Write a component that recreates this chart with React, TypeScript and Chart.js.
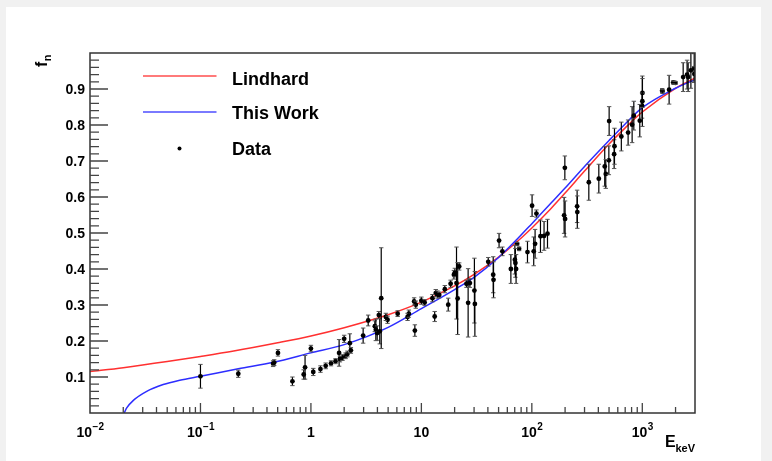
import React, { useEffect, useRef } from "react";
import { Chart, registerables } from "chart.js";

Chart.register(...registerables);

// ---- Curves ----
const lindhardE = [0.01, 0.02, 0.05, 0.1, 0.2, 0.5, 1, 2, 5, 10, 20, 30, 50, 70, 100, 150, 200, 300, 500, 700, 1000, 2000, 3000];
const lindhardF = [0.115, 0.126, 0.143, 0.157, 0.172, 0.195, 0.214, 0.237, 0.273, 0.308, 0.353, 0.385, 0.433, 0.47, 0.514, 0.569, 0.611, 0.672, 0.747, 0.792, 0.836, 0.902, 0.93];

const thisWorkE = [0.0204, 0.0215, 0.0247, 0.0326, 0.046, 0.065, 0.1, 0.22, 0.46, 1, 2, 5, 10, 20, 30, 50, 70, 100, 150, 200, 300, 500, 700, 1000, 2000, 3000];
const thisWorkF = [0, 0.014, 0.035, 0.06, 0.079, 0.091, 0.102, 0.123, 0.141, 0.167, 0.19, 0.238, 0.29, 0.343, 0.377, 0.432, 0.476, 0.526, 0.584, 0.625, 0.685, 0.757, 0.803, 0.848, 0.902, 0.926];

// ---- Data points ----
const dataE = [
  0.1, 0.22, 0.455, 0.465, 0.503, 0.68, 0.86, 0.885, 1.0, 1.05,
  1.22, 1.36, 1.52, 1.67, 1.8, 1.83, 1.93, 2.0, 2.06, 2.14,
  2.25, 2.3, 2.97, 3.3, 3.79, 3.87, 3.98, 4.12, 4.2, 4.33,
  4.77, 4.94, 6.1, 7.5, 7.7, 8.6, 8.73, 8.9, 10.0, 10.7,
  12.6, 13.2, 13.5, 14.0, 14.5, 16.3, 17.5, 18.4, 19.7, 20.1,
  20.8, 21.3, 22, 25.6, 26.5, 27.5, 30.2, 30.5, 40.3, 44.7,
  45, 50.5, 54.1, 64.6, 70.2, 71, 72, 73.6, 76.7, 91.3,
  100.5, 104, 107, 110, 119.7, 129, 138.6, 196, 199, 200,
  257, 258, 328, 404, 457, 467, 498, 501, 556, 560,
  646, 744, 809, 838, 949, 995, 1001, 1003, 1514, 1520,
  1749, 1903, 1995, 2344, 2544, 2600, 2754, 2950, 2960,
];
const dataF = [
  0.102, 0.109, 0.137, 0.14, 0.167, 0.088, 0.107, 0.127, 0.179, 0.114,
  0.122, 0.131, 0.138, 0.144, 0.167, 0.15, 0.154, 0.206, 0.159, 0.164,
  0.194, 0.174, 0.215, 0.257, 0.241, 0.231, 0.222, 0.272, 0.227, 0.319,
  0.267, 0.259, 0.276, 0.267, 0.276, 0.31, 0.229, 0.301, 0.312, 0.307,
  0.319, 0.268, 0.333, 0.329, 0.328, 0.344, 0.301, 0.359, 0.384, 0.39,
  0.361, 0.318, 0.407, 0.359, 0.306, 0.361, 0.34, 0.303, 0.42, 0.384,
  0.37, 0.479, 0.449, 0.4, 0.426, 0.417, 0.4, 0.47, 0.456, 0.447,
  0.576, 0.449, 0.47, 0.554, 0.491, 0.492, 0.498, 0.549, 0.681, 0.539,
  0.574, 0.558, 0.641, 0.651, 0.685, 0.664, 0.702, 0.811, 0.719, 0.741,
  0.768, 0.779, 0.801, 0.826, 0.812, 0.854, 0.866, 0.889, 0.896, 0.893,
  0.898, 0.918, 0.917, 0.933, 0.94, 0.933, 0.952, 0.958, 0.942,
];
const dataErr = [
  0.033, 0.01, 0.008, 0.008, 0.009, 0.012, 0.013, 0.033, 0.009, 0.01,
  0.009, 0.008, 0.007, 0.007, 0.037, 0.008, 0.008, 0.01, 0.008, 0.008,
  0.026, 0.008, 0.021, 0.015, 0.015, 0.03, 0.02, 0.01, 0.035, 0.14,
  0.01, 0.01, 0.008, 0.01, 0.01, 0.01, 0.016, 0.01, 0.01, 0.008,
  0.01, 0.014, 0.01, 0.01, 0.008, 0.01, 0.018, 0.01, 0.012, 0.012,
  0.1, 0.1, 0.01, 0.01, 0.095, 0.012, 0.09, 0.09, 0.012, 0.05,
  0.05, 0.02, 0.012, 0.04, 0.04, 0.04, 0.04, 0.004, 0.005, 0.03,
  0.03, 0.04, 0.04, 0.01, 0.045, 0.04, 0.04, 0.05, 0.033, 0.05,
  0.045, 0.045, 0.05, 0.04, 0.055, 0.04, 0.04, 0.04, 0.04, 0.05,
  0.04, 0.035, 0.05, 0.04, 0.045, 0.035, 0.07, 0.04, 0.005, 0.005,
  0.04, 0.004, 0.004, 0.04, 0.04, 0.04, 0.05, 0.04, 0.02,
];

// ---- Axes ----
const xMin = 0.01;
const xMax = 3000;
const yMin = 0;
const yMax = 1.0;
const xMajorTicks = [0.01, 0.1, 1, 10, 100, 1000];
const xTickBase = ["10", "10", "1", "10", "10", "10"];
const xTickExp = ["\u22122", "\u22121", "", "", "2", "3"];
const yMajorTicks = [0.1, 0.2, 0.3, 0.4, 0.5, 0.6, 0.7, 0.8, 0.9];
const yTickLabels = ["0.1", "0.2", "0.3", "0.4", "0.5", "0.6", "0.7", "0.8", "0.9"];
const legendLabels = ["Lindhard", "This Work", "Data"];

const FONT = "'Liberation Sans', Arial, Helvetica, sans-serif";

const rootPlugin = {
  id: "rootStyle",
  beforeDraw(chart: any) {
    const ctx = chart.ctx;
    ctx.save();
    ctx.fillStyle = "#f1f1f1";
    ctx.fillRect(0, 0, chart.width, chart.height);
    ctx.fillStyle = "#ffffff";
    ctx.fillRect(6, 7, 755, chart.height - 7);
    ctx.restore();
  },
  afterDatasetsDraw(chart: any) {
    const ctx = chart.ctx;
    const xs = chart.scales.x;
    const ys = chart.scales.y;
    const a = chart.chartArea;
    ctx.save();
    ctx.beginPath();
    ctx.rect(a.left, a.top, a.right - a.left, a.bottom - a.top);
    ctx.clip();
    for (let i = 0; i < dataE.length; i++) {
      const x = xs.getPixelForValue(dataE[i]);
      const yTop = ys.getPixelForValue(dataF[i] + dataErr[i]);
      const yBot = ys.getPixelForValue(dataF[i] - dataErr[i]);
      ctx.strokeStyle = "#000";
      ctx.lineWidth = 1.2;
      ctx.beginPath();
      ctx.moveTo(x, yTop);
      ctx.lineTo(x, yBot);
      ctx.stroke();
      ctx.strokeStyle = "#555";
      ctx.lineWidth = 1;
      ctx.beginPath();
      ctx.moveTo(x - 2.2, yTop);
      ctx.lineTo(x + 2.2, yTop);
      ctx.moveTo(x - 2.2, yBot);
      ctx.lineTo(x + 2.2, yBot);
      ctx.stroke();
    }
    ctx.restore();
  },
  afterDraw(chart: any) {
    const ctx = chart.ctx;
    const xs = chart.scales.x;
    const ys = chart.scales.y;
    const a = chart.chartArea;
    ctx.save();

    // frame
    ctx.strokeStyle = "#333";
    ctx.lineWidth = 1.5;
    ctx.strokeRect(a.left, a.top, a.right - a.left, a.bottom - a.top);

    // y ticks
    ctx.strokeStyle = "#444";
    ctx.lineWidth = 1.3;
    ctx.beginPath();
    for (let k = 1; k < 50; k++) {
      const v = k * 0.02;
      const y = ys.getPixelForValue(v);
      if (y < a.top + 1) continue;
      const major = k % 5 === 0;
      ctx.moveTo(a.left, y);
      ctx.lineTo(a.left + (major ? 18 : 9), y);
    }
    ctx.stroke();

    // x ticks
    ctx.beginPath();
    for (let d = -2; d <= 3; d++) {
      for (let m = 1; m <= 9; m++) {
        const v = m * Math.pow(10, d);
        if (v < xMin || v > xMax) continue;
        const x = xs.getPixelForValue(v);
        if (x <= a.left + 0.5 || x >= a.right - 0.5) continue;
        const len = m === 1 ? 10 : 6;
        ctx.moveTo(x, a.bottom);
        ctx.lineTo(x, a.bottom - len);
      }
    }
    ctx.stroke();

    // y tick labels
    ctx.fillStyle = "#000";
    ctx.font = `bold 14px ${FONT}`;
    ctx.textAlign = "right";
    ctx.textBaseline = "middle";
    yMajorTicks.forEach((v, i) => {
      const y = ys.getPixelForValue(v);
      ctx.fillText(yTickLabels[i], 85, y + 1.5);
    });

    // x tick labels
    ctx.textAlign = "left";
    ctx.textBaseline = "alphabetic";
    xMajorTicks.forEach((v, i) => {
      const x = xs.getPixelForValue(v);
      ctx.font = `bold 14px ${FONT}`;
      const wb = ctx.measureText(xTickBase[i]).width;
      ctx.font = `bold 10px ${FONT}`;
      const we = xTickExp[i] ? ctx.measureText(xTickExp[i]).width : 0;
      const start = x - (wb + we) / 2;
      ctx.font = `bold 14px ${FONT}`;
      ctx.fillText(xTickBase[i], start, 437);
      if (xTickExp[i]) {
        ctx.font = `bold 10px ${FONT}`;
        ctx.fillText(xTickExp[i], start + wb + 0.5, 429.5);
      }
    });

    // x title
    ctx.font = `bold 16px ${FONT}`;
    ctx.fillText("E", 665, 447);
    ctx.font = `bold 11px ${FONT}`;
    ctx.fillText("keV", 675.5, 452);

    // y title (rotated)
    ctx.save();
    ctx.translate(47, 67);
    ctx.rotate(-Math.PI / 2);
    ctx.font = `bold 16px ${FONT}`;
    ctx.fillText("f", 0, 0);
    const wf = ctx.measureText("f").width;
    ctx.font = `bold 11px ${FONT}`;
    ctx.fillText("n", wf + 0.5, 4);
    ctx.restore();

    // legend
    ctx.lineWidth = 2;
    ctx.strokeStyle = "#ff7a7a";
    ctx.beginPath();
    ctx.moveTo(143, 76);
    ctx.lineTo(216.5, 76);
    ctx.stroke();
    ctx.strokeStyle = "#7a7aff";
    ctx.beginPath();
    ctx.moveTo(143, 112);
    ctx.lineTo(216.5, 112);
    ctx.stroke();
    ctx.fillStyle = "#000";
    ctx.beginPath();
    ctx.arc(179.5, 148.5, 2, 0, Math.PI * 2);
    ctx.fill();
    ctx.font = `bold 18px ${FONT}`;
    ctx.fillText(legendLabels[0], 232, 84.5);
    ctx.fillText(legendLabels[1], 232, 119);
    ctx.fillText(legendLabels[2], 232, 155);

    ctx.restore();
  },
};

export default function App() {
  const ref = useRef<HTMLCanvasElement | null>(null);
  useEffect(() => {
    if (!ref.current) return;
    const chart = new Chart(ref.current, {
      type: "line",
      data: {
        datasets: [
          {
            label: legendLabels[2],
            data: dataE.map((e, i) => ({ x: e, y: dataF[i] })),
            showLine: false,
            pointRadius: 2.4,
            pointBackgroundColor: "#000",
            pointBorderWidth: 0,
            borderColor: "#000",
            backgroundColor: "#000",
          },
          {
            label: legendLabels[1],
            data: thisWorkE.map((e, i) => ({ x: e, y: thisWorkF[i] })),
            borderColor: "#2d2dff",
            borderWidth: 1.5,
            pointRadius: 0,
            cubicInterpolationMode: "monotone",
            fill: false,
          },
          {
            label: legendLabels[0],
            data: lindhardE.map((e, i) => ({ x: e, y: lindhardF[i] })),
            borderColor: "#ff3030",
            borderWidth: 1.5,
            pointRadius: 0,
            cubicInterpolationMode: "monotone",
            fill: false,
          },
        ],
      },
      options: {
        animation: false,
        responsive: false,
        devicePixelRatio: 1,
        layout: { padding: { left: 90, right: 77, top: 53, bottom: 48 } },
        plugins: { legend: { display: false }, tooltip: { enabled: false } },
        events: [],
        scales: {
          x: { type: "logarithmic", min: xMin, max: xMax, display: false },
          y: { type: "linear", min: yMin, max: yMax, display: false },
        },
      },
      plugins: [rootPlugin],
    } as any);
    return () => chart.destroy();
  }, []);
  return (
    <div style={{ position: "absolute", left: 0, top: 0, width: 772, height: 461 }}>
      <canvas ref={ref} width={772} height={461} style={{ width: 772, height: 461, display: "block" }} />
    </div>
  );
}
